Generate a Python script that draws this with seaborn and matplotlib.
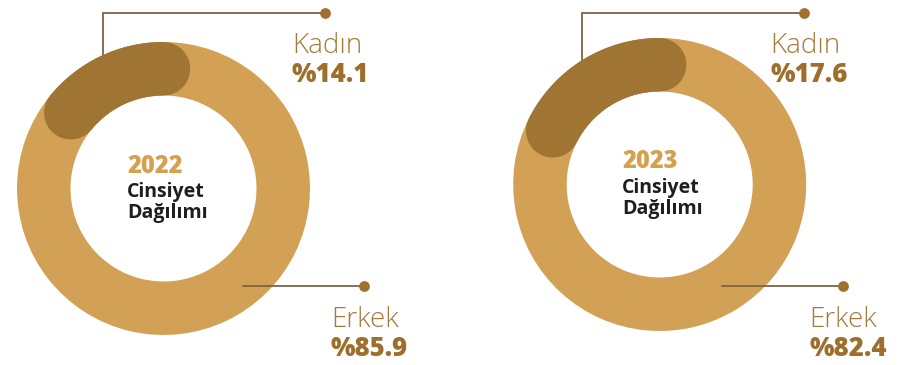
import numpy as np
import matplotlib
matplotlib.use("Agg")
import matplotlib.pyplot as plt
import seaborn as sns

# Gender distribution by year (percent)
years = ["2022", "2023"]
kadin = [14.1, 17.6]
erkek = [85.9, 82.4]
labels = ["Kadın", "Erkek"]
subtitle = ["Cinsiyet", "Dağılımı"]

sns.set_theme(style="white")
plt.rcParams["font.family"] = ["Open Sans", "DejaVu Sans"]

LIGHT = "#d3a155"
DARK = "#a07432"
LINE = "#7d6446"
DOT = "#a0702e"
NAME_C = "#a47a3a"
PCT_C = "#9e6f2c"
YEAR_C = "#d4a24f"
INK = "#1e1e1e"

W, H = 903, 365
fig = plt.figure(figsize=(W / 100, H / 100), dpi=100)
ax = fig.add_axes([0, 0, 1, 1])

R_OUT, R_IN = 146.5, 93.0
ring_w = R_OUT - R_IN
r_mid = (R_OUT + R_IN) / 2

# per-chart layout (pixel units, y up)
centers = [(163.5, 176.5), (659.7, 180.5)]
kad_vx = [103.3, 582.3]
kad_dot = [325.0, 804.0]
erk_x0 = [243.0, 721.7]
erk_dot = [364.0, 842.7]
name_x_k = [292.0, 770.7]
name_x_e = [331.0, 809.7]
mid_x = [127.0, 622.3]
mid_y = [(192, 168, 147), (197, 172, 151)]

lw_pt = ring_w * 72 / 100

for i, yr in enumerate(years):
    cx, cy = centers[i]
    # ring
    ax.pie([kadin[i], erkek[i]], colors=[DARK, LIGHT], startangle=90,
           counterclock=True, radius=R_OUT, center=(cx, cy),
           wedgeprops=dict(width=ring_w, linewidth=0), frame=True)
    # rounded highlight for the Kadın share
    th = np.radians(np.linspace(90, 90 + kadin[i] * 3.6, 80))
    sns.lineplot(x=cx + r_mid * np.cos(th), y=cy + r_mid * np.sin(th),
                 sort=False, color=DARK, linewidth=lw_pt,
                 solid_capstyle="round", ax=ax, zorder=3)

    # leader lines
    top_y = H - 12.5
    ax.plot([kad_vx[i], kad_vx[i], kad_dot[i]], [cy + 100, top_y, top_y],
            color=LINE, lw=1.3, zorder=0, solid_joinstyle="miter")
    ax.plot([erk_x0[i], erk_dot[i]], [79, 79], color=LINE, lw=1.3, zorder=4)
    ax.scatter([kad_dot[i], erk_dot[i]], [top_y, 79], s=60, color=DOT,
               zorder=5, linewidths=0)

    # labels
    ax.text(name_x_k[i], 312, labels[0], color=NAME_C, fontsize=20,
            fontweight="light", va="baseline", ha="left")
    ax.text(name_x_k[i], 283, f"%{kadin[i]:.1f}", color=PCT_C, fontsize=18.5,
            fontweight="heavy", va="baseline", ha="left")
    ax.text(name_x_e[i], 38, labels[1], color=NAME_C, fontsize=20,
            fontweight="light", va="baseline", ha="left")
    ax.text(name_x_e[i], 9, f"%{erkek[i]:.1f}", color=PCT_C, fontsize=18.5,
            fontweight="heavy", va="baseline", ha="left")

    # center text
    y0, y1, y2 = mid_y[i]
    ax.text(mid_x[i], y0, yr, color=YEAR_C, fontsize=17, fontweight="heavy",
            va="baseline", ha="left")
    ax.text(mid_x[i], y1, subtitle[0], color=INK, fontsize=14,
            fontweight="bold", va="baseline", ha="left")
    ax.text(mid_x[i], y2, subtitle[1], color=INK, fontsize=14,
            fontweight="bold", va="baseline", ha="left")

ax.set_xlim(0, W)
ax.set_ylim(0, H)
ax.set_aspect("equal", adjustable="box")
ax.set_axis_off()
if ax.get_legend() is not None:
    ax.get_legend().remove()

fig.savefig("out.png", dpi=100, facecolor="white")
